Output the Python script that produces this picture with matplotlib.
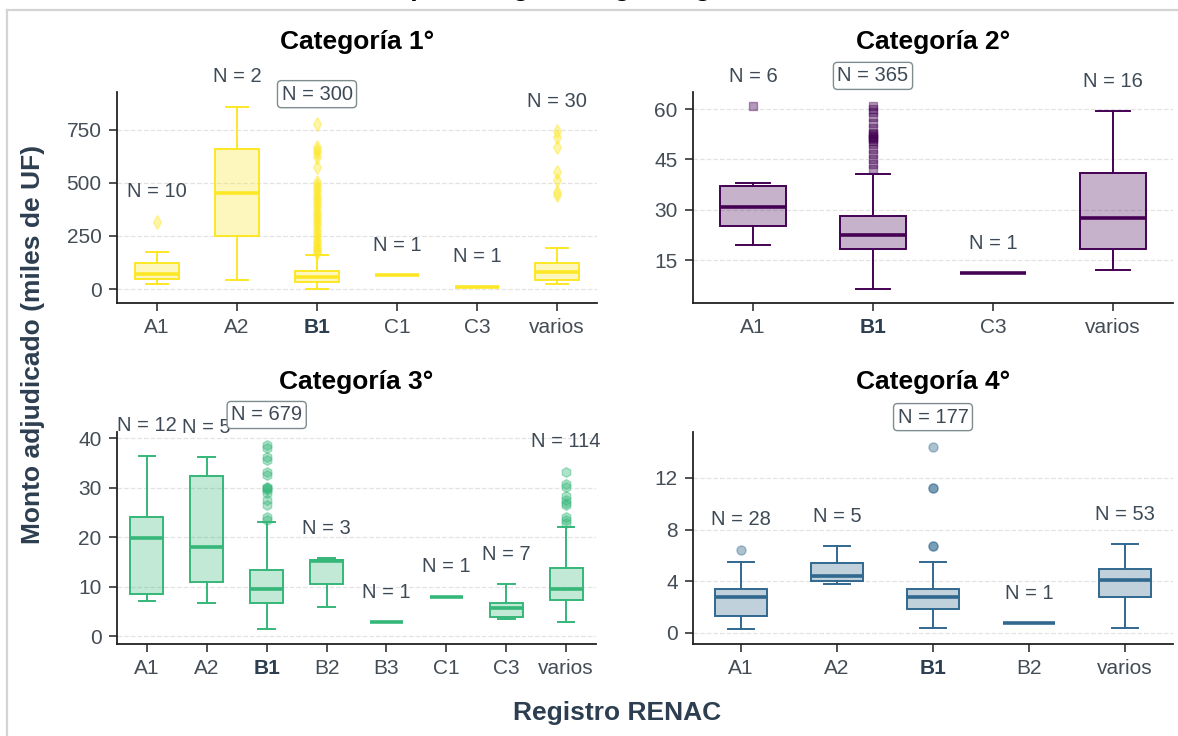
import matplotlib
matplotlib.use("Agg")
import matplotlib.pyplot as plt
from matplotlib.colors import to_rgba
from matplotlib.lines import Line2D

plt.rcParams['font.family'] = ['Liberation Sans', 'DejaVu Sans']

# ==========================================
# Datos (miles de UF)
# ==========================================
cat1_labels = ['A1', 'A2', 'B1', 'C1', 'C3', 'varios']
cat1_n = [10, 2, 300, 1, 1, 30]
cat1_q1 = [46, 250, 33, 65, 11, 42]
cat1_med = [71, 454, 58, 65, 11, 82]
cat1_q3 = [124, 660, 86, 65, 11, 123]
cat1_lo = [25, 42, 0, 65, 11, 25]
cat1_hi = [176, 860, 160, 65, 11, 192]
cat1_fliers = [
    [317],
    [],
    [170, 180, 190, 200, 210, 220, 235, 250, 265, 280, 295, 310, 325, 340,
     355, 370, 385, 400, 415, 430, 445, 460, 475, 490, 505, 577, 624, 640,
     655, 671, 778],
    [],
    [],
    [443, 459, 514, 553, 671, 718, 745],
]

cat2_labels = ['A1', 'B1', 'C3', 'varios']
cat2_n = [6, 365, 1, 16]
cat2_q1 = [25.2, 18.3, 11.1, 18.3]
cat2_med = [30.8, 22.4, 11.1, 27.6]
cat2_q3 = [37.0, 28.0, 11.1, 41.1]
cat2_lo = [19.5, 6.4, 11.1, 12.1]
cat2_hi = [38.1, 40.7, 11.1, 59.4]
cat2_fliers = [
    [60.8],
    [42.0, 43.5, 45.0, 46.5, 48.0, 49.5, 50.5, 51.0, 51.3, 51.6, 52.0, 52.5,
     53.0, 54.5, 56.0, 57.5, 59.0, 60.0, 61.0],
    [],
    [],
]

cat3_labels = ['A1', 'A2', 'B1', 'B2', 'B3', 'C1', 'C3', 'varios']
cat3_n = [12, 5, 679, 3, 1, 1, 7, 114]
cat3_q1 = [8.6, 10.9, 6.7, 10.5, 2.8, 8.0, 3.8, 7.4]
cat3_med = [19.9, 18.0, 9.6, 15.1, 2.8, 8.0, 5.7, 9.6]
cat3_q3 = [24.0, 32.3, 13.4, 15.4, 2.8, 8.0, 6.7, 13.7]
cat3_lo = [7.1, 6.7, 1.35, 5.8, 2.8, 8.0, 3.5, 2.8]
cat3_hi = [36.5, 36.2, 23.0, 15.8, 2.8, 8.0, 10.5, 22.1]
cat3_fliers = [
    [], [],
    [23.5, 24.2, 26.5, 27.5, 28.9, 29.6, 29.9, 30.0, 30.2, 32.6, 33.3, 35.6,
     36.3, 38.0, 38.7],
    [], [], [], [],
    [22.9, 23.5, 24.2, 26.5, 27.0, 27.5, 28.3, 30.2, 30.8, 33.3],
]

cat4_labels = ['A1', 'A2', 'B1', 'B2', 'varios']
cat4_n = [28, 5, 177, 1, 53]
cat4_q1 = [1.32, 4.03, 1.83, 0.72, 2.79]
cat4_med = [2.74, 4.41, 2.74, 0.72, 4.08]
cat4_q3 = [3.41, 5.37, 3.41, 0.72, 4.98]
cat4_lo = [0.26, 3.77, 0.34, 0.72, 0.39]
cat4_hi = [5.5, 6.71, 5.5, 0.72, 6.87]
cat4_fliers = [[6.45], [], [6.7, 6.7, 11.2, 11.2, 14.4], [], []]

# ==========================================
# Estilo de cada panel
# ==========================================
W, H = 1178, 736
paneles = [
    dict(titulo='Categoría 1°', color='#FDE725', marker='d', ms=7,
         rect=(117, 92, 480, 211), ylim=(-66, 929), yticks=[0, 250, 500, 750],
         datos=(cat1_labels, cat1_n, cat1_q1, cat1_med, cat1_q3, cat1_lo, cat1_hi, cat1_fliers)),
    dict(titulo='Categoría 2°', color='#440154', marker='s', ms=6,
         rect=(693, 92, 480, 211), ylim=(2.2, 65.1), yticks=[15, 30, 45, 60],
         datos=(cat2_labels, cat2_n, cat2_q1, cat2_med, cat2_q3, cat2_lo, cat2_hi, cat2_fliers)),
    dict(titulo='Categoría 3°', color='#35B779', marker='h', ms=7,
         rect=(117, 432, 479, 212), ylim=(-1.6, 41.3), yticks=[0, 10, 20, 30, 40],
         datos=(cat3_labels, cat3_n, cat3_q1, cat3_med, cat3_q3, cat3_lo, cat3_hi, cat3_fliers)),
    dict(titulo='Categoría 4°', color='#31688E', marker='o', ms=6.5,
         rect=(693, 432, 480, 212), ylim=(-0.87, 15.56), yticks=[0, 4, 8, 12],
         datos=(cat4_labels, cat4_n, cat4_q1, cat4_med, cat4_q3, cat4_lo, cat4_hi, cat4_fliers)),
]

fig = plt.figure(figsize=(W / 100, H / 100), dpi=100)
texto = '#2c3e50'

for p in paneles:
    x0, y0, w, h = p['rect']
    ax = fig.add_axes([x0 / W, 1 - (y0 + h) / H, w / W, h / H])
    labels, ns, q1, med, q3, lo, hi, fliers = p['datos']
    c = p['color']

    stats = []
    for i in range(len(labels)):
        stats.append(dict(label=labels[i], q1=q1[i], med=med[i], q3=q3[i],
                          whislo=lo[i], whishi=hi[i], fliers=fliers[i]))
    pos = list(range(len(labels)))
    ax.bxp(stats, positions=pos, widths=0.55, capwidths=0.28, patch_artist=True,
           boxprops=dict(facecolor=to_rgba(c, 0.3), edgecolor=c, linewidth=1.4),
           whiskerprops=dict(color=c, linewidth=1.4),
           capprops=dict(color=c, linewidth=1.4),
           medianprops=dict(color=c, linewidth=2.6),
           flierprops=dict(marker=p['marker'], markersize=p['ms'],
                           markerfacecolor=c, markeredgecolor=c, alpha=0.4))

    # etiquetas N sobre cada caja
    for i, lab in enumerate(labels):
        tope = max([hi[i]] + fliers[i])
        kw = dict(ha='center', va='center', fontsize=14.5, color='#3d4a56',
                  textcoords='offset points', xytext=(0, 21.5))
        if lab == 'B1':
            kw['bbox'] = dict(boxstyle='round,pad=0.2', fc='white', ec='#7f8c8d', lw=1)
            kw['zorder'] = 10
        ax.annotate(f'N = {ns[i]}', xy=(i, tope), **kw)

    ax.set_xlim(-0.5, len(labels) - 0.5)
    ax.set_ylim(*p['ylim'])
    ax.set_yticks(p['yticks'])
    ax.set_xticks(pos)
    ax.set_xticklabels(labels)
    ax.tick_params(axis='both', labelsize=15, colors='#222222', labelcolor='#444c55',
                   length=6, width=1.1, pad=5)
    for t in ax.get_xticklabels():
        if t.get_text() == 'B1':
            t.set_fontweight('bold')
            t.set_color(texto)
    ax.spines['top'].set_visible(False)
    ax.spines['right'].set_visible(False)
    for s in ('left', 'bottom'):
        ax.spines[s].set_linewidth(1.3)
        ax.spines[s].set_color('#222222')
    ax.yaxis.grid(True, linestyle='--', color='#e3e3e3', linewidth=0.9)
    ax.set_axisbelow(True)
    ax.set_title(p['titulo'], fontsize=19, fontweight='bold', pad=31)

fig.text(33 / W, 1 - 344 / H, 'Monto adjudicado (miles de UF)', rotation=90,
         ha='center', va='center', fontsize=19, fontweight='bold', color=texto)
fig.text(617 / W, 1 - 713 / H, 'Registro RENAC', ha='center', va='center',
         fontsize=19, fontweight='bold', color=texto)

# título general (queda recortado arriba, como en la captura)
fig.text(0.5, 1 + 4.0 / H, 'Montos por categoría según registro RENAC', ha='center',
         va='baseline', fontsize=19, fontweight='bold', color='black')

# marco gris de la captura
fig.add_artist(Line2D([7 / W, 1], [1 - 10 / H, 1 - 10 / H], transform=fig.transFigure,
                      color='#d4d4d4', linewidth=1.6))
fig.add_artist(Line2D([7 / W, 7 / W], [0, 1 - 10 / H], transform=fig.transFigure,
                      color='#d4d4d4', linewidth=1.6))

fig.savefig('out.png', dpi=100)
